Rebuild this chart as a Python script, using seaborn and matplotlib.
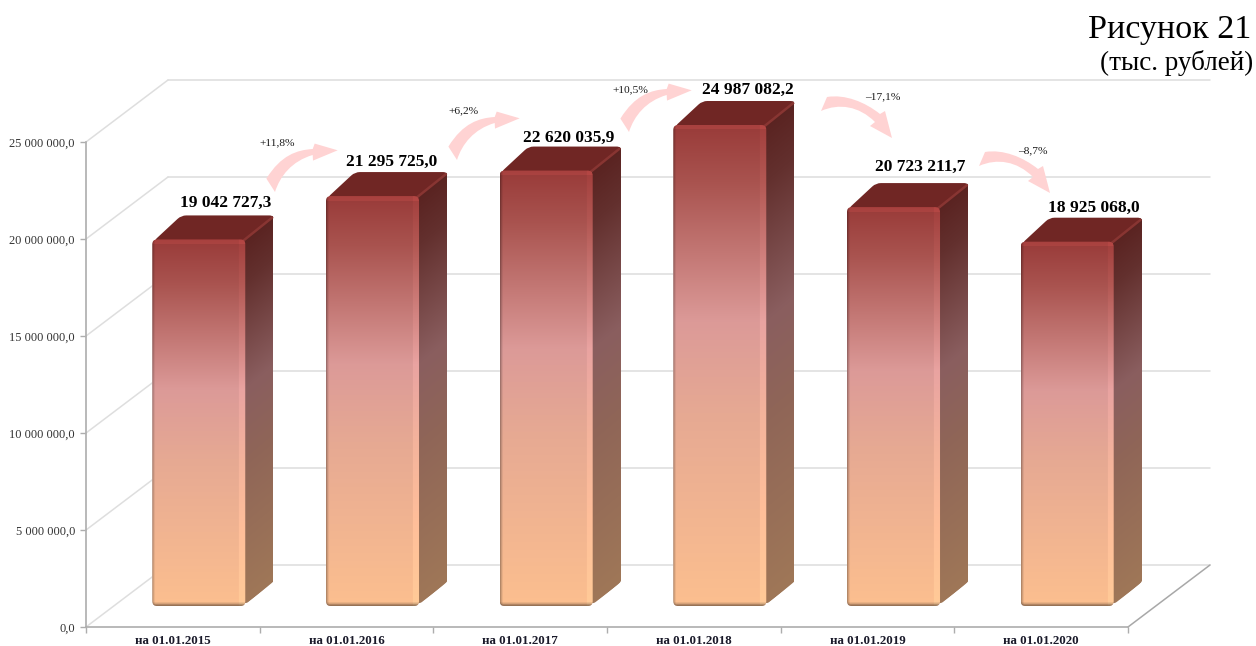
import matplotlib
matplotlib.use('Agg')
import matplotlib.pyplot as plt
import numpy as np
import pandas as pd
import seaborn as sns
from matplotlib.colors import to_rgb
from matplotlib.patches import FancyBboxPatch, PathPatch
from matplotlib.path import Path
from matplotlib.transforms import Affine2D, IdentityTransform

# data
dates = ['на 01.01.2015', 'на 01.01.2016', 'на 01.01.2017',
         'на 01.01.2018', 'на 01.01.2019', 'на 01.01.2020']
values = [19042727.3, 21295725.0, 22620035.9, 24987082.2, 20723211.7, 18925068.0]
value_labels = ['19 042 727,3', '21 295 725,0', '22 620 035,9',
                '24 987 082,2', '20 723 211,7', '18 925 068,0']
y_ticks = [0, 5000000, 10000000, 15000000, 20000000, 25000000]
y_tick_labels = ['0,0', '5 000 000,0', '10 000 000,0', '15 000 000,0',
                 '20 000 000,0', '25 000 000,0']
changes = ['+11,8%', '+6,2%', '+10,5%', '–17,1%', '–8,7%']

W, H = 1256, 646
sns.set_style('white')
plt.rcParams['font.family'] = ['Liberation Serif', 'DejaVu Serif']

fig = plt.figure(figsize=(W / 100, H / 100), dpi=100)


def axes_px(left, right, top, bottom):
    return fig.add_axes([left / W, 1 - bottom / H, (right - left) / W, (bottom - top) / H])


def rounded_path(points, r=5):
    # closed outline with every corner cut by a small quadratic curve
    pts = np.array(points, dtype=float)
    verts, codes = [], []
    n = len(pts)
    for i in range(n):
        p, prev, nxt = pts[i], pts[i - 1], pts[(i + 1) % n]
        a = p + (prev - p) / np.linalg.norm(prev - p) * r
        b = p + (nxt - p) / np.linalg.norm(nxt - p) * r
        verts += [a, p, b]
        codes += [Path.MOVETO if i == 0 else Path.LINETO, Path.CURVE3, Path.CURVE3]
    verts.append(verts[0])
    codes.append(Path.CLOSEPOLY)
    return Path(verts, codes)


###############################################################################
# frame: axis, back wall, floor
###############################################################################
ax = axes_px(86, 1128, 142, 627)
ax.set_xlim(0, 6)
ax.set_ylim(0, 25000000)
ax.set_autoscale_on(False)
ax.patch.set_alpha(0)
sns.despine(ax=ax)
for side in ['left', 'bottom']:
    ax.spines[side].set_color('#adadad')
    ax.spines[side].set_linewidth(1.2)
ax.set_yticks(y_ticks, y_tick_labels, fontsize=8.9, color='#333333')
ax.set_xticks(range(7), [''] * 7)
ax.set_xticks(np.arange(6) + 0.5, dates, minor=True, fontsize=9.4,
              fontweight='bold', color='#1a1a2a')
ax.tick_params(axis='both', which='major', length=4, width=1, color='#adadad', pad=4, left=True, bottom=True)
ax.tick_params(axis='x', which='minor', length=0, pad=5.5, bottom=False)

depth_x, depth_y = 82, 62
back = ax.transData + Affine2D().translate(depth_x, depth_y)
for v in y_ticks:
    a = ax.transData.transform((0, v))
    ax.plot([a[0], a[0] + depth_x], [a[1], a[1] + depth_y], color='#dedede', lw=1.1,
            transform=IdentityTransform(), clip_on=False, zorder=1)
    ax.plot([0, 6], [v, v], color='#dcdcdc', lw=1.1, transform=back, clip_on=False, zorder=1)
a = ax.transData.transform((6, 0))
ax.plot([a[0], a[0] + depth_x], [a[1], a[1] + depth_y], color='#a8a8a8', lw=1.1,
        transform=IdentityTransform(), clip_on=False, zorder=1)

###############################################################################
# bars
###############################################################################
axb = axes_px(112, 1154, 100, 606)
df = pd.DataFrame({'date': dates, 'value': values})
sns.barplot(data=df, x='date', y='value', ax=axb, width=0.536, color='#c98a78', saturation=1)
axb.set_ylim(0, 506 / 19.25 * 1000000)
axb.set_xlim(-0.5, 5.5)
axb.set_autoscale_on(False)
axb.axis('off')

stops = [0.0, 0.12, 0.41, 0.6, 1.0]
front_colors = ['#993b39', '#a9534f', '#dc9a98', '#e6a993', '#fcbf8f']
side_colors = ['#5a2321', '#63302e', '#8a5e5f', '#8f6558', '#9f7757']
bar_depth_x, bar_depth_y = 29, 24


def gradient(colors, n=256):
    rgb = np.array([to_rgb(c) for c in colors])
    t = np.linspace(0, 1, n)
    return np.stack([np.interp(t, stops, rgb[:, i]) for i in range(3)], axis=1)


for bar, label in zip(axb.patches, value_labels):
    box = bar.get_window_extent()
    x0, x1, y0, y1 = box.x0, box.x1, box.y0, box.y1
    bw, bh = int(x1 - x0), int(y1 - y0)

    # outline of the top and side faces together, for the soft outer corners
    outline = rounded_path([(x0 + 1, y1 - 2), (x0 + bar_depth_x, y1 + bar_depth_y),
                            (x1 + bar_depth_x, y1 + bar_depth_y), (x1 + bar_depth_x, y0 + bar_depth_y),
                            (x1 - 1, y0 + 1)])
    clip = PathPatch(outline, transform=IdentityTransform())

    # side face, a gradient sheared along the depth direction
    side = gradient(side_colors)[:, None, :]
    side = np.dstack([side, np.ones(side.shape[:2])])
    im = axb.imshow(side, extent=(0, 1, 0, 1), aspect='auto', zorder=2, interpolation='bilinear')
    im.set_transform(Affine2D.from_values(bar_depth_x, bar_depth_y, 0, y1 - y0, x1 - 1, y0))
    im.set_clip_path(clip)

    # top face
    top = PathPatch(Path([(x0, y1 - 1), (x0 + bar_depth_x, y1 + bar_depth_y + 1), (x1 + bar_depth_x + 1, y1 + bar_depth_y + 1),
                          (x1 - 1, y1 - 1), (x0, y1 - 1)], closed=True),
                    facecolor='#702624', edgecolor='none', transform=IdentityTransform(), zorder=3)
    axb.add_patch(top)
    top.set_clip_path(clip)
    ridge, = axb.plot([x1 - 3, x1 + bar_depth_x - 2], [y1 - 2, y1 + bar_depth_y - 2], color='#883532',
                      lw=1.8, transform=IdentityTransform(), zorder=3, solid_capstyle='round')
    ridge.set_clip_path(clip)

    # front face with bevelled edges
    round_box = FancyBboxPatch((x0, y0), x1 - x0, y1 - y0, boxstyle='round,pad=0,rounding_size=5',
                               transform=IdentityTransform())
    bar.set_clip_path(round_box)
    arr = np.repeat(gradient(front_colors, bh)[:, None, :], bw, axis=1)
    edge = np.ones(bw)
    edge[:3] = [0.72, 0.84, 0.94]
    edge[-7:] = 1.06
    edge[-1] = 0.92
    arr = np.clip(arr * edge[None, :, None], 0, 1)
    arr[:5] = np.clip(arr[:5] * 1.1, 0, 1)
    arr[-4:] = arr[-4:] * np.array([0.93, 0.85, 0.7, 0.6])[:, None, None]
    im = axb.imshow(arr, extent=(bar.get_x(), bar.get_x() + bar.get_width(), 0, bar.get_height()),
                    aspect='auto', zorder=4, interpolation='bilinear')
    im.set_clip_path(round_box)

axb.set_ylim(0, 506 / 19.25 * 1000000)
axb.set_xlim(-0.5, 5.5)

# value labels: shift from the bar's top middle, in pixels
label_dx = [27, 19, 23, 28, 27, 27]
label_dy = [37, 34, 33, 35, 40, 34]
for i, (v, label) in enumerate(zip(values, value_labels)):
    axb.annotate(label, (i, v), xytext=(label_dx[i] * 0.72, label_dy[i] * 0.72), textcoords='offset points',
                 ha='center', va='center', fontsize=12.5, fontweight='bold', color='black',
                 annotation_clip=False, zorder=6)

###############################################################################
# overlay in picture pixels: arrows, notes, heading
###############################################################################
fx = fig.add_axes([0, 0, 1, 1])
fx.set_xlim(0, W)
fx.set_ylim(H, 0)
fx.axis('off')

up_path = [(0, 0), (-8.6, -13.4), (6, -37), (22, -42), (37.7, -43), (39.7, -48.4), (62.7, -41.7),
           (38, -31.4), (37.7, -37), (17, -31), (5, -16), (0, 0)]
down_path = [(0, 0), (6, -14), (24, -17), (44, -9), (59, 3), (64, 0), (71, 27),
             (49, 15), (54, 11), (38, -5), (18, -8), (0, 0)]
codes = [Path.MOVETO, Path.LINETO, Path.CURVE4, Path.CURVE4, Path.CURVE4, Path.LINETO, Path.LINETO,
         Path.LINETO, Path.LINETO, Path.CURVE4, Path.CURVE4, Path.CURVE4]
arrow_tails = [(275, 192), (457, 160), (629, 132), (821, 111), (979, 166)]
arrow_shapes = [up_path, up_path, up_path, down_path, down_path]
for (tx, ty), shape in zip(arrow_tails, arrow_shapes):
    path = Path([(tx + p[0], ty + p[1]) for p in shape], codes)
    fx.add_patch(PathPatch(path, facecolor='#ffd3d3', edgecolor='none', zorder=5))

change_x = [277, 464, 630, 883, 1033]
change_y = [143, 111, 90, 97, 151]
for x, y, text in zip(change_x, change_y, changes):
    fx.text(x, y, text, ha='center', va='center', fontsize=8.2, color='#1a1a1a')

fx.text(1251, 30, 'Рисунок 21', ha='right', va='center', fontsize=24.5, color='black')
fx.text(1253, 63, '(тыс. рублей)', ha='right', va='center', fontsize=19.5, color='black')

fig.savefig('out.png', dpi=100)
